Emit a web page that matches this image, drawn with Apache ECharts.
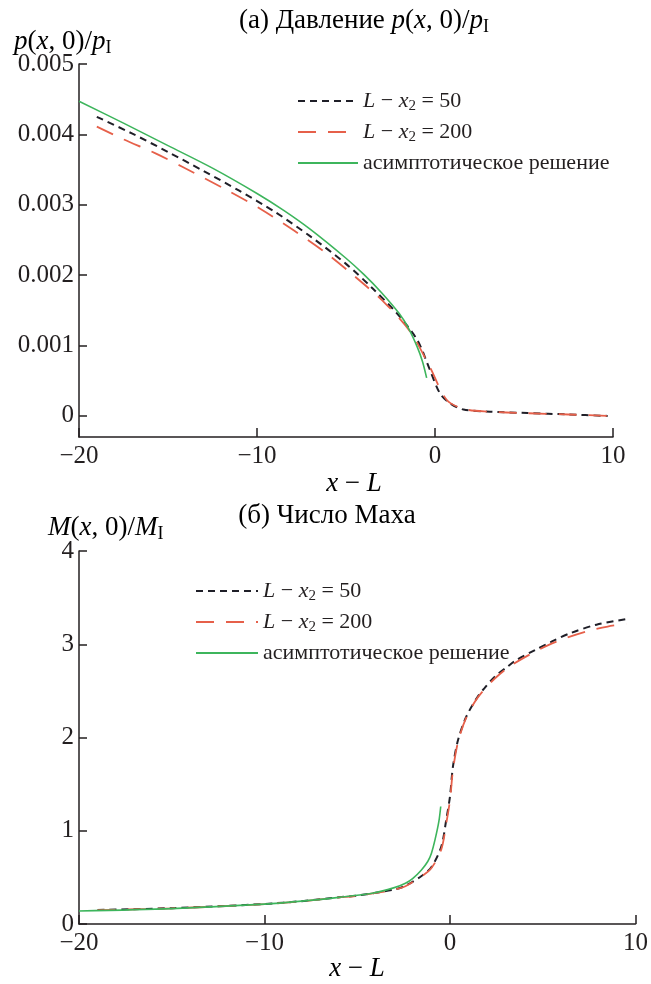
<!DOCTYPE html>
<html><head><meta charset="utf-8">
<script src="https://cdn.jsdelivr.net/npm/echarts@6/dist/echarts.min.js"></script>
<style>html,body{margin:0;padding:0;background:#fff}#c{width:651px;height:984px}</style>
</head><body><div id="c"></div>
<script>
// ---- (а) Pressure p(x,0)/p_I ----
const pX50  = [-19.0,-17,-15,-13,-11,-9,-7,-5,-3.5,-2.15,-1.0,-0.28,0.28,0.84,1.6,3.1,5.2,7.5,9.7];
const pY50  = [0.00425,0.00401,0.00375,0.00348,0.00320,0.00290,0.00255,0.00216,0.00181,0.00146,0.00108,0.00065,0.00032,0.00018,0.00009,0.00006,0.00004,0.00002,0.00000];
const pX200 = [-19.0,-17.5,-15.7,-14.2,-11.7,-9.8,-7.9,-6.1,-4.5,-2.8,-1.4,-0.3,0.65,1.6,3.0,5.0,7.5,9.7];
const pY200 = [0.00411,0.00393,0.00373,0.00354,0.00321,0.00294,0.00263,0.00231,0.00198,0.00160,0.00120,0.00070,0.00023,0.00010,0.00006,0.00004,0.00002,0.00000];
const pXas  = [-20,-17.5,-15,-12.5,-10,-8.5,-7.0,-5.0,-4.0,-3.0,-2.0,-1.5,-1.0,-0.7,-0.47];
const pYas  = [0.00447,0.00416,0.00384,0.00352,0.00316,0.00292,0.00265,0.00224,0.00201,0.00175,0.00145,0.00125,0.00098,0.00077,0.00054];
const pTicks = [0,0.001,0.002,0.003,0.004,0.005];

// ---- (б) Mach number M(x,0)/M_I ----
const mX50  = [-19.0,-15,-12,-10,-8,-6,-5,-4,-3,-2.4,-1.5,-1.0,-0.47,-0.2,0,0.16,0.43,0.87,1.5,1.86,2.4,3.1,3.5,4.6,5.5,6.5,7.9,9.5];
const mY50  = [0.150,0.170,0.195,0.215,0.245,0.286,0.305,0.335,0.370,0.410,0.520,0.610,0.830,1.120,1.370,1.690,1.970,2.220,2.440,2.530,2.650,2.760,2.820,2.940,3.030,3.120,3.210,3.270];
const mX200 = [-19.0,-15,-12,-10,-8,-6,-5,-4,-3,-2.4,-1.5,-1.0,-0.47,-0.2,0,0.16,0.43,0.87,1.5,2.4,3.2,4.3,5.3,6.3,7.4,8.5,9.5];
const mY200 = [0.148,0.168,0.193,0.213,0.243,0.284,0.303,0.333,0.368,0.405,0.515,0.600,0.800,1.080,1.330,1.650,1.950,2.210,2.430,2.630,2.760,2.890,2.990,3.070,3.140,3.190,3.220];
const mXas  = [-20,-15,-10,-8,-6,-4.2,-3,-2.4,-2.0,-1.54,-1.2,-1.0,-0.8,-0.6,-0.5];
const mYas  = [0.139,0.165,0.213,0.245,0.286,0.329,0.390,0.437,0.490,0.580,0.670,0.760,0.910,1.100,1.260];

const N50 = 'L − x2 = 50', N200 = 'L − x2 = 200', NAS = 'асимптотическое решение';

const FONT = '"Liberation Serif","Times New Roman",serif';
const C = '#231f20';
const FS = 25;   // tick labels
const FT = 27;   // titles / axis names
const FL = 22;   // legend
function mkRich(fs) {
  return {
    i: {fontFamily: FONT, fontStyle: 'italic', fontSize: fs, lineHeight: fs + 4, color: C},
    r: {fontFamily: FONT, fontSize: fs, lineHeight: fs + 4, color: C},
    s: {fontFamily: FONT, fontSize: Math.round(fs * 0.68), lineHeight: Math.round(fs * 0.62), verticalAlign: 'bottom', color: C}
  };
}
const richT = mkRich(FT), richL = mkRich(FL);
const pairs = (xs, ys) => xs.map((x, k) => [x, ys[k]]);
const minus = v => (v < 0 ? '−' + Math.abs(v) : String(v));

const COL50 = '#1f1f28', COL200 = '#e6604a', COLAS = '#3db55c';

function mkSeries(xi, name, data, color, type, width) {
  return {type: 'line', name, xAxisIndex: xi, yAxisIndex: xi, data, symbol: 'none',
    smooth: 0.3, silent: true,
    lineStyle: {color, width, type}, itemStyle: {color}};
}

function xAxisCfg(gi) {
  return {gridIndex: gi, type: 'value', min: -20, max: 10, interval: 10,
    axisLine: {onZero: false, lineStyle: {color: C, width: 1.5}},
    axisTick: {inside: true, length: 9, lineStyle: {color: C, width: 1.5}},
    axisLabel: {fontFamily: FONT, fontSize: FS, color: C, margin: 7, formatter: minus},
    splitLine: {show: false}};
}

const legendFmt = name => {
  if (name === N50) return '{i|L}{r| − }{i|x}{s|2}{r| = 50}';
  if (name === N200) return '{i|L}{r| − }{i|x}{s|2}{r| = 200}';
  return '{r|' + name + '}';
};
function legendCfg(left, top, w) {
  return {orient: 'vertical', left, top, itemWidth: w, itemHeight: 12, itemGap: 5,
    data: [N50, N200, NAS],
    itemStyle: {opacity: 0, color: 'rgba(0,0,0,0)', borderWidth: 0},
    formatter: legendFmt,
    textStyle: {fontFamily: FONT, fontSize: FL, color: C, lineHeight: FL + 4, rich: richL}};
}

const option = {
  animation: false,
  backgroundColor: '#fff',
  grid: [
    {left: 79, top: 64, width: 534, height: 373},
    {left: 79, top: 551, width: 559, height: 373}
  ],
  xAxis: [xAxisCfg(0), xAxisCfg(1)],
  yAxis: [
    {gridIndex: 0, type: 'value', min: -0.0003, max: 0.005,
      axisLine: {show: true, onZero: false, lineStyle: {color: C, width: 1.5}},
      axisTick: {show: true, inside: true, length: 8, customValues: pTicks, lineStyle: {color: C, width: 1.5}},
      axisLabel: {customValues: pTicks, fontFamily: FONT, fontSize: FS, color: C, margin: 5,
        formatter: v => (Math.abs(v) < 1e-9 ? '0' : v.toFixed(3))},
      splitLine: {show: false}},
    {gridIndex: 1, type: 'value', min: 0, max: 4, interval: 1,
      axisLine: {show: true, onZero: false, lineStyle: {color: C, width: 1.5}},
      axisTick: {show: true, inside: true, length: 8, lineStyle: {color: C, width: 1.5}},
      axisLabel: {fontFamily: FONT, fontSize: FS, color: C, margin: 5},
      splitLine: {show: false}}
  ],
  legend: [legendCfg(292, 83, 60), legendCfg(190, 573, 62)],
  series: [
    mkSeries(0, N50, pairs(pX50, pY50), COL50, [7, 5], 2),
    mkSeries(0, N200, pairs(pX200, pY200), COL200, [18, 12], 1.8),
    mkSeries(0, NAS, pairs(pXas, pYas), COLAS, 'solid', 1.6),
    mkSeries(1, N50, pairs(mX50, mY50), COL50, [7, 5], 2),
    mkSeries(1, N200, pairs(mX200, mY200), COL200, [18, 12], 1.8),
    mkSeries(1, NAS, pairs(mXas, mYas), COLAS, 'solid', 1.6)
  ],
  graphic: [
    {type: 'text', x: 364, y: 21, style: {text: '{r|(а) Давление }{i|p}{r|(}{i|x}{r|, 0)/}{i|p}{s|I}', rich: richT, align: 'center', verticalAlign: 'middle'}},
    {type: 'text', x: 14, y: 42, style: {text: '{i|p}{r|(}{i|x}{r|, 0)/}{i|p}{s|I}', rich: richT, align: 'left', verticalAlign: 'middle'}},
    {type: 'text', x: 354, y: 484, style: {text: '{i|x}{r| − }{i|L}', rich: richT, align: 'center', verticalAlign: 'middle'}},
    {type: 'text', x: 327, y: 516, style: {text: '{r|(б) Число Маха}', rich: richT, align: 'center', verticalAlign: 'middle'}},
    {type: 'text', x: 48, y: 528, style: {text: '{i|M}{r|(}{i|x}{r|, 0)/}{i|M}{s|I}', rich: richT, align: 'left', verticalAlign: 'middle'}},
    {type: 'text', x: 357, y: 969, style: {text: '{i|x}{r| − }{i|L}', rich: richT, align: 'center', verticalAlign: 'middle'}}
  ]
};
const chart = echarts.init(document.getElementById('c'), null, {renderer: 'canvas'});
chart.setOption(option);
</script></body></html>
